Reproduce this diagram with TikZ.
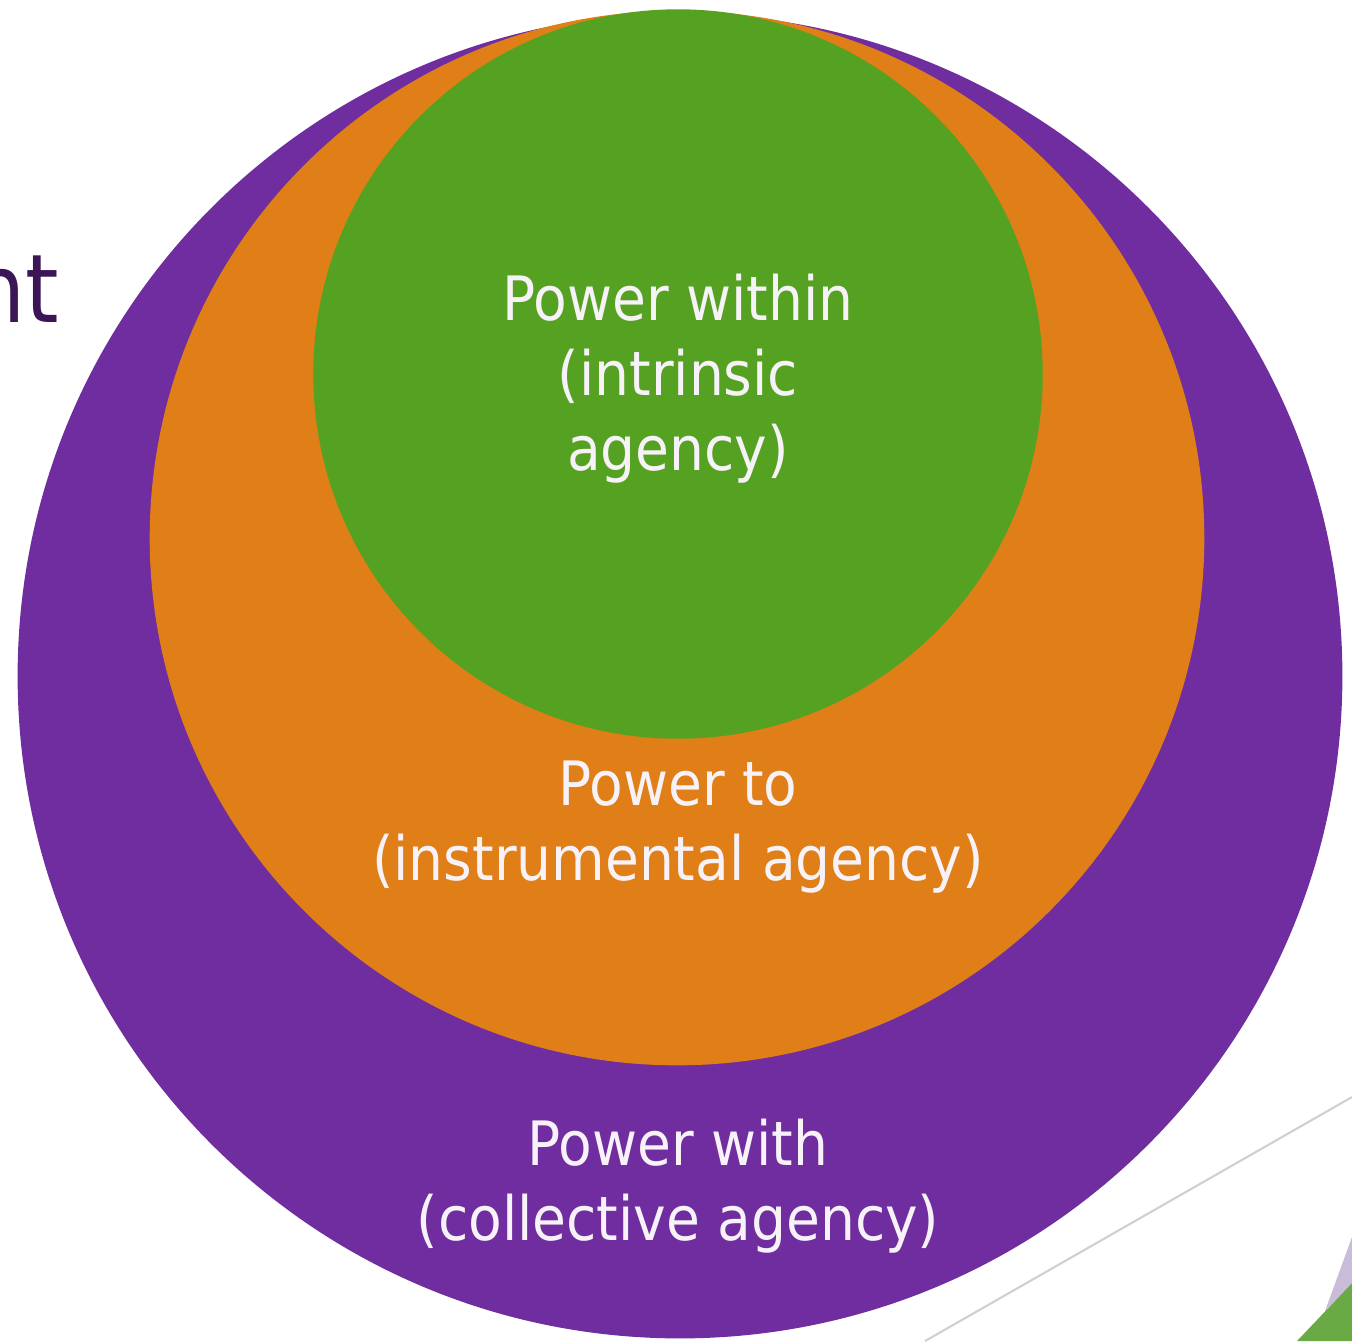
\documentclass[tikz,border=0pt]{standalone}
\usepackage{fontspec}
\setmainfont{DejaVu Sans Condensed}
\definecolor{cpurple}{HTML}{6F2DA0}
\definecolor{corange}{HTML}{E07E17}
\definecolor{cgreen}{HTML}{55A222}
\definecolor{ctext}{HTML}{F7F2F7}
\definecolor{cdark}{HTML}{3B1656}
\definecolor{clav}{HTML}{C9BCD8}
\definecolor{cgreen2}{HTML}{6AAA45}
\definecolor{cline}{HTML}{D0D0D0}
\begin{document}
\begin{tikzpicture}[x=0.01cm,y=-0.01cm,
  disc/.style={circle,inner sep=0pt,draw=none},
  lbl/.style={text=ctext,align=center,font=\fontsize{17.4pt}{21.3pt}\selectfont,inner sep=0pt}]
\useasboundingbox (0,0) rectangle (1352,1341);
\clip (0,0) rectangle (1352,1341);
% bottom-right decorations
\draw[cline,line width=0.6pt] (925,1341) coordinate (l1) -- (1352,1097) coordinate (l2);
\fill[clav] (1352,1237) -- (1325,1311) -- (1352,1283) -- cycle;
\fill[cgreen2] (1297,1341) -- (1352,1283) -- (1352,1341) -- cycle;
% circles
\node[disc,fill=cpurple,minimum size=13.24cm] (purple) at (680,676) {};
\node[disc,fill=corange,minimum size=10.54cm] (orange) at (677,538) {};
\node[disc,fill=cgreen,minimum size=7.29cm] (green) at (678,374) {};
% labels (anchor=base is the baseline of the last line)
\node[lbl,anchor=base] (within) at (678,470) {Power within\\(intrinsic\\agency)};
\node[lbl,anchor=base] (to) at (678,880) {Power to\\(instrumental agency)};
\node[lbl,anchor=base] (with) at (678,1240) {Power with\\(collective agency)};
% cut-off title text
\node[anchor=base east,text=cdark,inner sep=0pt,font=\fontsize{27pt}{32pt}\selectfont] (title) at (60,322) {nt};
\end{tikzpicture}
\end{document}
